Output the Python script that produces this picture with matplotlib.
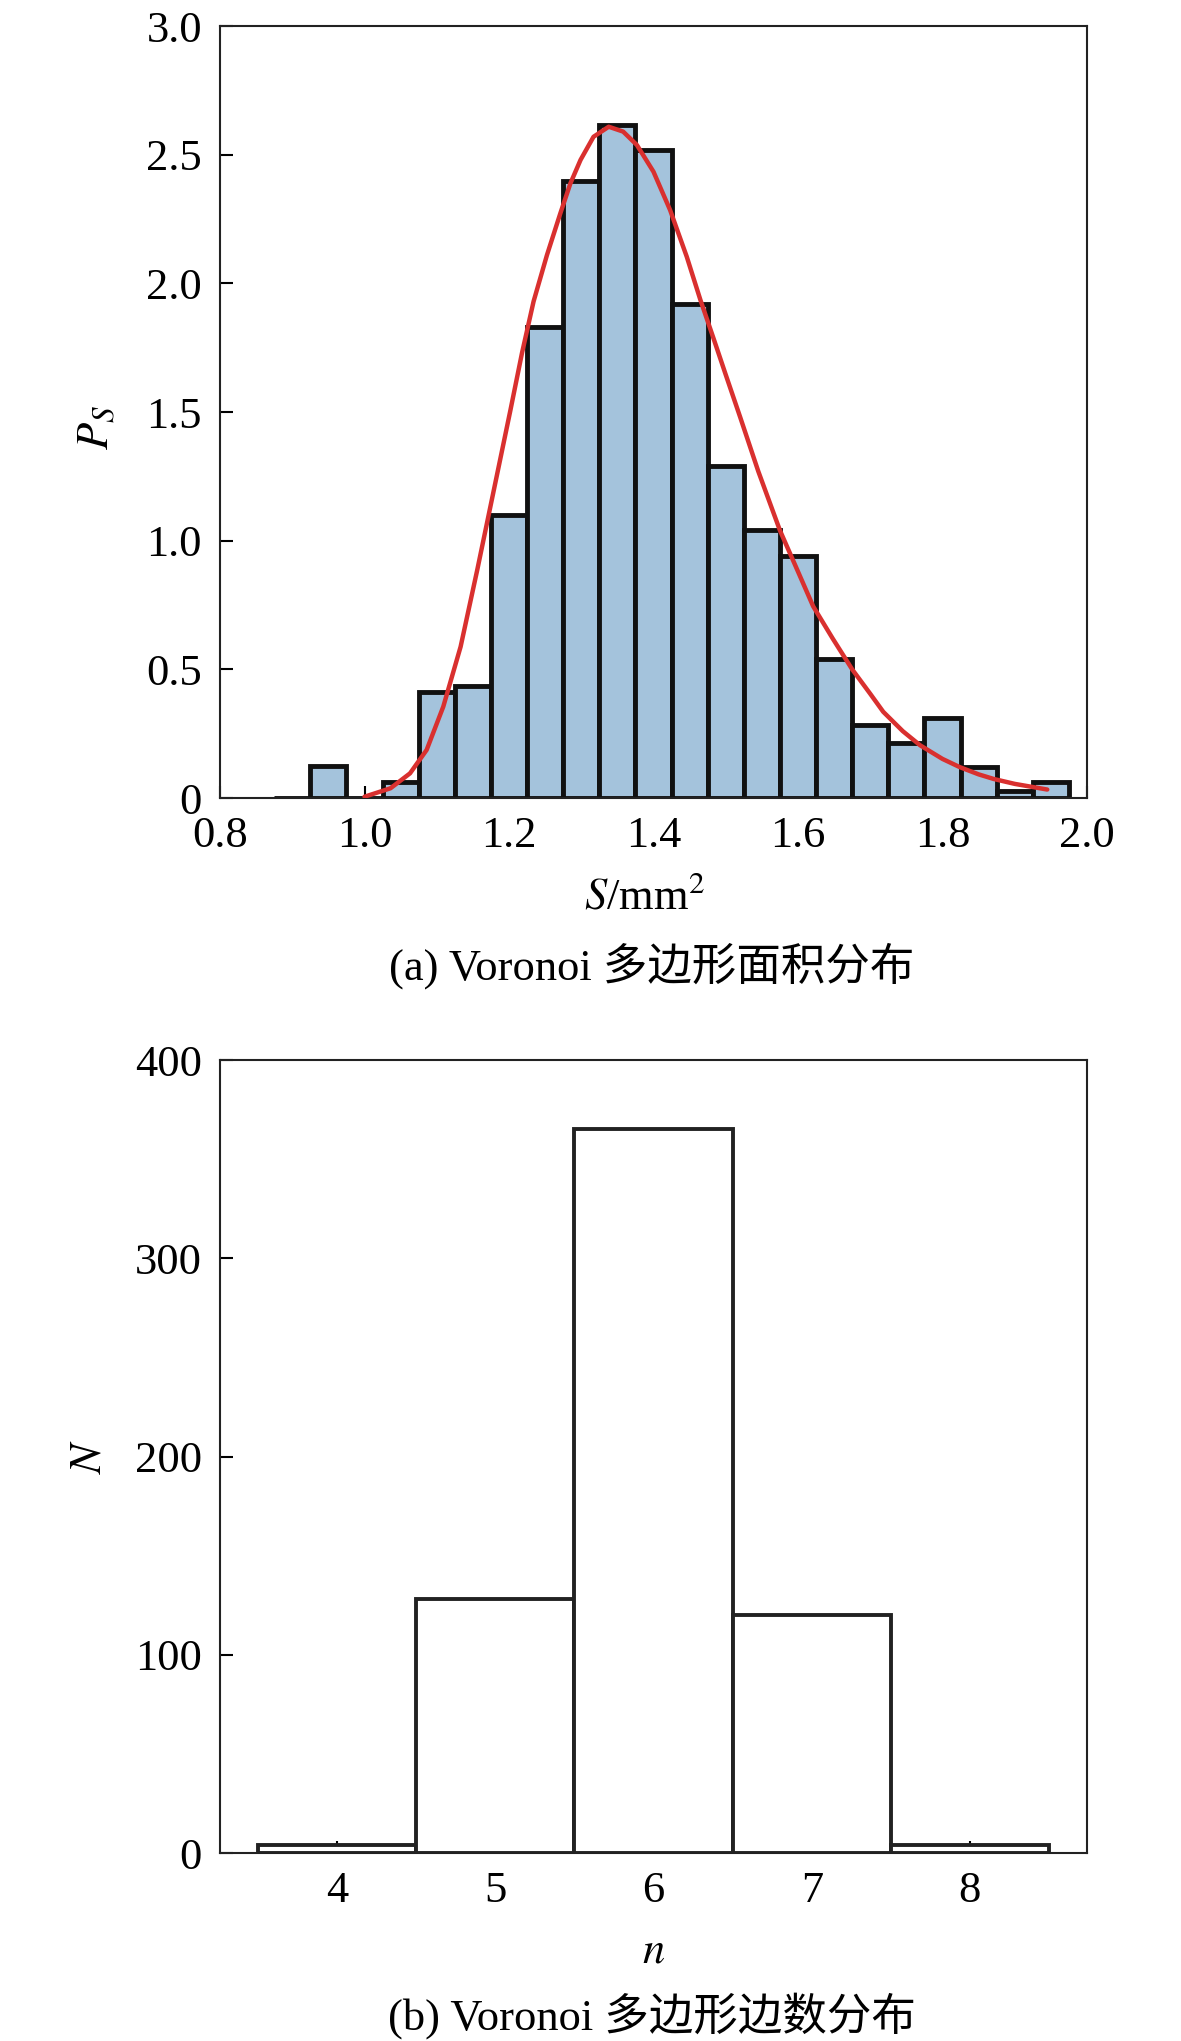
import numpy as np
import matplotlib
matplotlib.use('Agg')
import matplotlib.pyplot as plt

plt.rcParams['font.family'] = ['Liberation Serif', 'Noto Sans CJK SC', 'DejaVu Sans']
plt.rcParams['mathtext.fontset'] = 'stix'
plt.rcParams['font.size'] = 32

# (a) area histogram, bin centres and densities
s_centers = [0.90, 0.95, 1.00, 1.05, 1.10, 1.15, 1.20, 1.25, 1.30, 1.35, 1.40,
             1.45, 1.50, 1.55, 1.60, 1.65, 1.70, 1.75, 1.80, 1.85, 1.90, 1.95]
s_density = [0.0, 0.124, 0.0, 0.064, 0.411, 0.437, 1.10, 1.83, 2.40, 2.616, 2.52,
             1.92, 1.29, 1.04, 0.94, 0.54, 0.284, 0.212, 0.311, 0.122, 0.027, 0.063]

# fitted curve
fit_x = [1.00, 1.036, 1.063, 1.086, 1.109, 1.133, 1.156, 1.179, 1.202, 1.218,
         1.234, 1.2525, 1.271, 1.285, 1.299, 1.317, 1.338, 1.358, 1.377, 1.40,
         1.423, 1.446, 1.465, 1.483, 1.50, 1.52, 1.545, 1.575, 1.60, 1.621,
         1.648, 1.675, 1.70, 1.718, 1.745, 1.769, 1.80, 1.824, 1.85, 1.871, 1.90, 1.945]
fit_y = [0.005, 0.038, 0.096, 0.187, 0.355, 0.588, 0.886, 1.197, 1.508, 1.73,
         1.93, 2.11, 2.272, 2.389, 2.48, 2.570, 2.609, 2.590, 2.538, 2.434,
         2.285, 2.104, 1.935, 1.787, 1.645, 1.48, 1.27, 1.04, 0.88, 0.745,
         0.62, 0.50, 0.405, 0.335, 0.26, 0.205, 0.152, 0.12, 0.092, 0.074, 0.055, 0.033]

# (b) number of sides
n_sides = [4, 5, 6, 7, 8]
n_count = [4, 128, 365, 120, 4]

fig = plt.figure(figsize=(11.81, 20.41), dpi=100)

ax1 = fig.add_axes([0.1863, 0.6090, 0.7341, 0.3782])
ax1.bar(s_centers, s_density, width=0.05, color='#a4c3dc', edgecolor='#111111',
        linewidth=3.5, zorder=2)
ax1.plot(fit_x, fit_y, color='#d9302f', linewidth=3.2, zorder=3,
         solid_joinstyle='round', solid_capstyle='round')
ax1.set_xlim(0.8, 2.0)
ax1.set_ylim(0, 3.0)
ax1.set_xticks([0.8, 1.0, 1.2, 1.4, 1.6, 1.8, 2.0])
ax1.set_yticks([0, 0.5, 1.0, 1.5, 2.0, 2.5, 3.0])
ax1.set_yticklabels(['0', '0.5', '1.0', '1.5', '2.0', '2.5', '3.0'])
ax1.set_xlabel('$S$/mm$^2$', va='center')
ax1.xaxis.set_label_coords(0.49, -0.128)
ax1.set_ylabel('$P_S$', va='center')
ax1.yaxis.set_label_coords(-0.141, 0.48)

ax2 = fig.add_axes([0.1863, 0.0921, 0.7341, 0.3885])
ax2.bar(n_sides, n_count, width=1.0, color='white', edgecolor='#222222',
        linewidth=2.8, zorder=2)
ax2.set_xlim(3.26, 8.74)
ax2.set_ylim(0, 400)
ax2.set_xticks(n_sides)
ax2.set_yticks([0, 100, 200, 300, 400])
ax2.set_xlabel('$n$', va='center')
ax2.xaxis.set_label_coords(0.5, -0.124)
ax2.set_ylabel('$N$', va='center')
ax2.yaxis.set_label_coords(-0.151, 0.5)

for ax in (ax1, ax2):
    ax.tick_params(direction='in', length=9, width=1.5, pad=13, top=False, right=False)
    for sp in ax.spines.values():
        sp.set_linewidth(1.5)
        sp.set_color('#222222')

fig.text(0.552, 0.5267, '(a) Voronoi 多边形面积分布', ha='center', va='center', fontsize=32)
fig.text(0.552, 0.0127, '(b) Voronoi 多边形边数分布', ha='center', va='center', fontsize=32)

fig.savefig('out.png', dpi=100)
